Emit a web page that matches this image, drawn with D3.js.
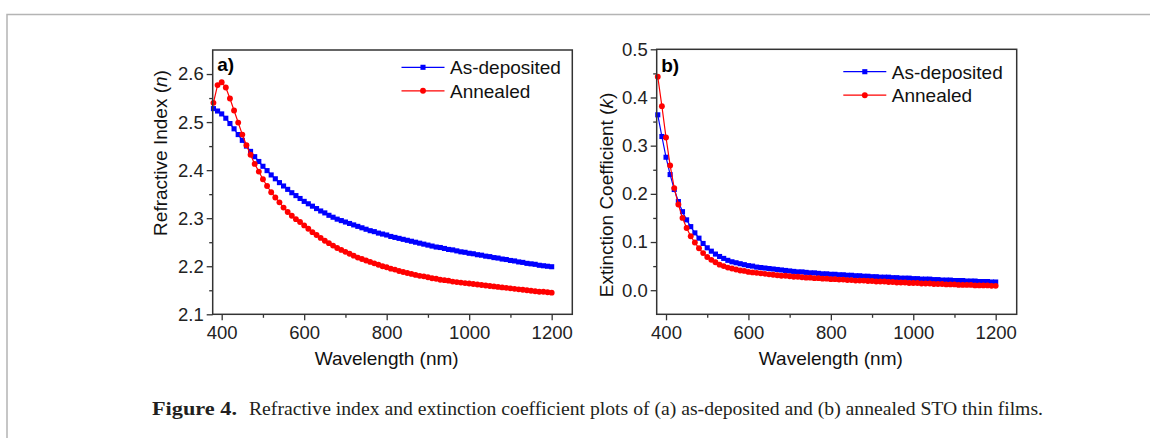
<!DOCTYPE html>
<html>
<head>
<meta charset="utf-8">
<script src="https://cdn.jsdelivr.net/npm/d3@7"></script>
<style>
  body { margin: 0; background: #fff; }
  svg { display: block; }
</style>
</head>
<body>
<svg id="chart"></svg>
<script>
const wavelength = [380, 390, 400, 410, 420, 430, 440, 450, 460, 470,
  480, 490, 500, 510, 520, 530, 540, 550, 560, 570,
  580, 590, 600, 610, 620, 630, 640, 650, 660, 670,
  680, 690, 700, 710, 720, 730, 740, 750, 760, 770,
  780, 790, 800, 810, 820, 830, 840, 850, 860, 870,
  880, 890, 900, 910, 920, 930, 940, 950, 960, 970,
  980, 990, 1000, 1010, 1020, 1030, 1040, 1050, 1060, 1070,
  1080, 1090, 1100, 1110, 1120, 1130, 1140, 1150, 1160, 1170,
  1180, 1190, 1200];

// refractive index n
const nAsDeposited = [2.528, 2.523, 2.517, 2.508, 2.497, 2.486, 2.474, 2.462, 2.450, 2.439,
  2.428, 2.418, 2.408, 2.399, 2.390, 2.382, 2.374, 2.367, 2.360, 2.353,
  2.347, 2.341, 2.335, 2.330, 2.325, 2.320, 2.315, 2.311, 2.306, 2.302,
  2.298, 2.295, 2.292, 2.289, 2.286, 2.283, 2.280, 2.277, 2.274, 2.272,
  2.269, 2.267, 2.265, 2.262, 2.260, 2.258, 2.256, 2.254, 2.252, 2.250,
  2.248, 2.246, 2.244, 2.242, 2.240, 2.239, 2.237, 2.235, 2.234, 2.232,
  2.230, 2.229, 2.227, 2.226, 2.224, 2.223, 2.221, 2.220, 2.218, 2.217,
  2.215, 2.214, 2.212, 2.211, 2.209, 2.208, 2.206, 2.205, 2.204, 2.202,
  2.201, 2.200, 2.199];
const nAnnealed = [2.540, 2.577, 2.583, 2.572, 2.549, 2.524, 2.499, 2.474, 2.452, 2.432,
  2.413, 2.397, 2.381, 2.367, 2.354, 2.343, 2.333, 2.322, 2.313, 2.305,
  2.298, 2.292, 2.285, 2.278, 2.271, 2.265, 2.259, 2.253, 2.248, 2.243,
  2.238, 2.234, 2.230, 2.226, 2.222, 2.218, 2.215, 2.212, 2.209, 2.206,
  2.203, 2.200, 2.198, 2.195, 2.193, 2.190, 2.188, 2.186, 2.184, 2.182,
  2.180, 2.179, 2.177, 2.175, 2.174, 2.172, 2.171, 2.170, 2.168, 2.167,
  2.166, 2.165, 2.164, 2.163, 2.162, 2.161, 2.160, 2.159, 2.158, 2.157,
  2.156, 2.155, 2.154, 2.153, 2.152, 2.151, 2.150, 2.149, 2.148, 2.147,
  2.147, 2.146, 2.145];

// extinction coefficient k
const kAsDeposited = [0.364, 0.319, 0.276, 0.240, 0.209, 0.184, 0.163, 0.146, 0.132, 0.119,
  0.108, 0.097, 0.088, 0.081, 0.075, 0.070, 0.066, 0.062, 0.059, 0.057,
  0.055, 0.053, 0.051, 0.050, 0.048, 0.047, 0.046, 0.045, 0.044, 0.043,
  0.042, 0.041, 0.040, 0.039, 0.038, 0.038, 0.037, 0.036, 0.036, 0.035,
  0.034, 0.034, 0.033, 0.033, 0.032, 0.032, 0.031, 0.031, 0.030, 0.030,
  0.029, 0.029, 0.028, 0.028, 0.027, 0.027, 0.027, 0.026, 0.026, 0.025,
  0.025, 0.025, 0.024, 0.024, 0.023, 0.023, 0.023, 0.022, 0.022, 0.021,
  0.021, 0.021, 0.020, 0.020, 0.020, 0.019, 0.019, 0.019, 0.018, 0.018,
  0.018, 0.017, 0.017];
const kAnnealed = [0.443, 0.382, 0.317, 0.259, 0.212, 0.178, 0.150, 0.129, 0.112, 0.099,
  0.087, 0.077, 0.069, 0.063, 0.058, 0.053, 0.050, 0.047, 0.045, 0.043,
  0.041, 0.040, 0.038, 0.037, 0.036, 0.035, 0.034, 0.033, 0.032, 0.031,
  0.030, 0.030, 0.029, 0.028, 0.028, 0.027, 0.026, 0.026, 0.025, 0.025,
  0.024, 0.024, 0.023, 0.023, 0.022, 0.022, 0.021, 0.021, 0.020, 0.020,
  0.020, 0.019, 0.019, 0.018, 0.018, 0.018, 0.017, 0.017, 0.016, 0.016,
  0.016, 0.015, 0.015, 0.015, 0.014, 0.014, 0.014, 0.013, 0.013, 0.013,
  0.012, 0.012, 0.012, 0.011, 0.011, 0.011, 0.011, 0.010, 0.010, 0.010,
  0.010, 0.009, 0.009];

const seriesNames = ['As-deposited', 'Annealed'];
const wlTicks = [400, 600, 800, 1000, 1200];
const wlMinorTicks = [500, 700, 900, 1100];
const nTicks = [2.1, 2.2, 2.3, 2.4, 2.5, 2.6];
const nMinorTicks = [2.15, 2.25, 2.35, 2.45, 2.55];
const kTicks = [0.0, 0.1, 0.2, 0.3, 0.4, 0.5];
const kMinorTicks = [0.05, 0.15, 0.25, 0.35, 0.45];

const w = 1150;
const h = 438;
const font = "'Liberation Sans', Arial, sans-serif";
const blue = '#0000ff';
const red = '#ff0000';

const svg = d3.select('#chart').attr('width', w).attr('height', h);
svg.append('rect').attr('width', w).attr('height', h).attr('fill', '#fff');

// page frame (top + left rule)
svg.append('path')
  .attr('d', `M7,${h} V14.5 H${w}`)
  .attr('fill', 'none')
  .attr('stroke', '#b4b4b4')
  .attr('stroke-width', 1.5);

function drawPanel(p) {
  const x = d3.scaleLinear().domain(p.xDomain).range([p.left, p.right]);
  const y = d3.scaleLinear().domain(p.yDomain).range([p.bottom, p.top]);
  const g = svg.append('g');

  // minor ticks
  g.append('g')
    .attr('transform', `translate(0,${p.bottom})`)
    .call(d3.axisBottom(x).tickValues(wlMinorTicks).tickSize(3.5).tickFormat('').tickSizeOuter(0))
    .call(a => a.select('.domain').remove());
  g.append('g')
    .attr('transform', `translate(${p.left},0)`)
    .call(d3.axisLeft(y).tickValues(p.yMinor).tickSize(3.5).tickFormat('').tickSizeOuter(0))
    .call(a => a.select('.domain').remove());

  // major ticks + labels
  const xa = g.append('g')
    .attr('transform', `translate(0,${p.bottom})`)
    .call(d3.axisBottom(x).tickValues(wlTicks).tickSize(6).tickPadding(6)
      .tickFormat(d => String(d)).tickSizeOuter(0));
  const ya = g.append('g')
    .attr('transform', `translate(${p.left},0)`)
    .call(d3.axisLeft(y).tickValues(p.yTicks).tickSize(6).tickPadding(3)
      .tickFormat(d3.format('.1f')).tickSizeOuter(0));
  [xa, ya].forEach(a => {
    a.select('.domain').remove();
    a.selectAll('text').attr('fill', '#222').style('font-family', font).style('font-size', '18.5px');
  });
  g.selectAll('.tick line').attr('stroke', '#333').attr('stroke-width', 1.3);

  // series
  const series = [
    { values: p.blueVals, color: blue, shape: d3.symbolSquare, size: 26 },
    { values: p.redVals, color: red, shape: d3.symbolCircle, size: 27 }
  ];
  const line = d3.line().x(d => x(d[0])).y(d => y(d[1]));
  series.forEach(s => {
    const pts = wavelength.map((wl, i) => [wl, s.values[i]]);
    g.append('path')
      .datum(pts)
      .attr('d', line)
      .attr('fill', 'none')
      .attr('stroke', s.color)
      .attr('stroke-width', 1.2);
    g.selectAll(null)
      .data(pts)
      .enter()
      .append('path')
      .attr('transform', d => `translate(${x(d[0])},${y(d[1])})`)
      .attr('d', d3.symbol(s.shape, s.size))
      .attr('fill', s.color);
  });

  // plot frame
  g.append('rect')
    .attr('x', p.left).attr('y', p.top)
    .attr('width', p.right - p.left).attr('height', p.bottom - p.top)
    .attr('fill', 'none')
    .attr('stroke', '#333')
    .attr('stroke-width', 1.5);

  // panel label
  g.append('text')
    .attr('x', p.left + 4.5).attr('y', p.labelY)
    .style('font-family', font).style('font-size', '19px').style('font-weight', 'bold')
    .text(p.label);

  // legend
  series.forEach((s, i) => {
    const ly = p.legendY + i * 23.5;
    g.append('line')
      .attr('x1', p.legendX).attr('x2', p.legendX + 43)
      .attr('y1', ly).attr('y2', ly)
      .attr('stroke', s.color).attr('stroke-width', 1.2);
    g.append('path')
      .attr('transform', `translate(${p.legendX + 21.5},${ly})`)
      .attr('d', d3.symbol(s.shape, s.size))
      .attr('fill', s.color);
    g.append('text')
      .attr('x', p.legendX + 48.5).attr('y', ly).attr('dy', '0.36em')
      .attr('fill', '#111')
      .style('font-family', font).style('font-size', '19px')
      .text(seriesNames[i]);
  });

  // axis titles
  g.append('text')
    .attr('x', (x(400) + x(1200)) / 2).attr('y', 364.5)
    .attr('text-anchor', 'middle')
    .attr('fill', '#111')
    .style('font-family', font).style('font-size', '19px')
    .text('Wavelength (nm)');
  const yt = g.append('text')
    .attr('transform', `translate(${p.yTitleX},${p.yTitleY}) rotate(-90)`)
    .attr('text-anchor', 'middle')
    .attr('fill', '#111')
    .style('font-family', font).style('font-size', '19px');
  yt.append('tspan').text(p.yTitle + ' (');
  yt.append('tspan').style('font-style', 'italic').text(p.yVar);
  yt.append('tspan').text(')');
}

drawPanel({
  left: 212.7, right: 572.3, top: 50, bottom: 314.3,
  xDomain: [378.2, 1250], yDomain: [2.1, 2.65],
  yTicks: nTicks, yMinor: nMinorTicks,
  blueVals: nAsDeposited, redVals: nAnnealed,
  label: 'a)', labelY: 71,
  legendX: 401.5, legendY: 67.3,
  yTitle: 'Refractive Index', yVar: 'n', yTitleX: 166.5, yTitleY: 153
});

drawPanel({
  left: 656.7, right: 1016.7, top: 49.3, bottom: 314.3,
  xDomain: [377.4, 1251], yDomain: [-0.05, 0.5],
  yTicks: kTicks, yMinor: kMinorTicks,
  blueVals: kAsDeposited, redVals: kAnnealed,
  label: 'b)', labelY: 72,
  legendX: 843.3, legendY: 71.7,
  yTitle: 'Extinction Coefficient', yVar: 'k', yTitleX: 612.5, yTitleY: 195
});

// caption
const capFont = "'Liberation Serif', 'DejaVu Serif', serif";
svg.append('text')
  .attr('x', 152).attr('y', 414.5)
  .attr('fill', '#231f20')
  .attr('textLength', 85).attr('lengthAdjust', 'spacingAndGlyphs')
  .style('font-family', capFont).style('font-size', '19.5px').style('font-weight', 'bold')
  .text('Figure 4.');
svg.append('text')
  .attr('x', 249).attr('y', 414.5)
  .attr('fill', '#231f20')
  .attr('textLength', 794).attr('lengthAdjust', 'spacingAndGlyphs')
  .style('font-family', capFont).style('font-size', '19.5px')
  .text('Refractive index and extinction coefficient plots of (a) as-deposited and (b) annealed STO thin films.');
</script>
</body>
</html>
